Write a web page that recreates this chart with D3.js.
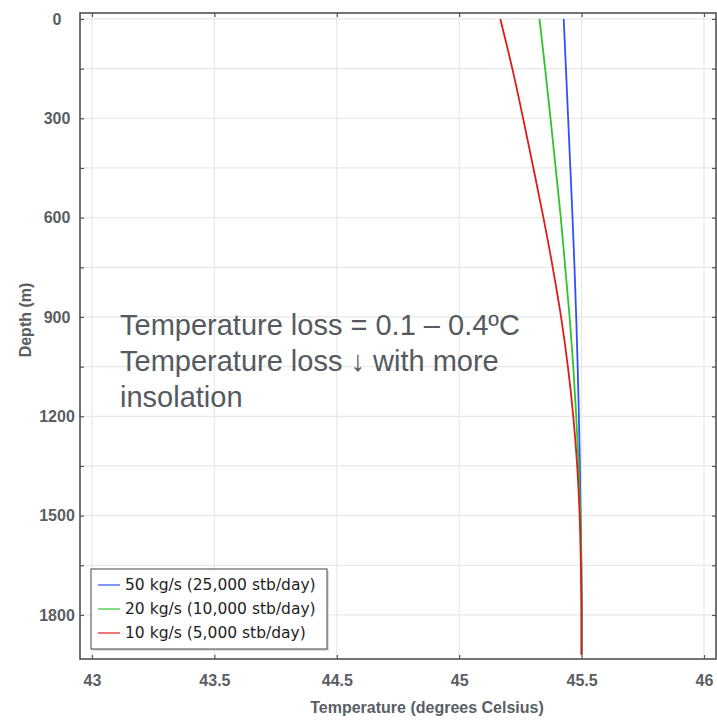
<!DOCTYPE html>
<html>
<head>
<meta charset="utf-8">
<script src="https://cdn.jsdelivr.net/npm/d3@7"></script>
<style>
  body { margin: 0; background: #fff; }
</style>
</head>
<body>
<div id="chart"></div>
<script>
let w = 717;
let h = 721;
let margin = {top: 13, right: 1, bottom: 62, left: 80};
let iw = w - margin.left - margin.right;
let ih = h - margin.top - margin.bottom;

// data
let depths = [0, 150, 300, 450, 600, 750, 900, 1050, 1200, 1350, 1500, 1650, 1800, 1920];
let temp50 = [45.427, 45.436, 45.445, 45.454, 45.463, 45.471, 45.478, 45.484, 45.489, 45.493, 45.496, 45.499, 45.5, 45.5];
let temp20 = [45.328, 45.351, 45.373, 45.394, 45.415, 45.433, 45.451, 45.466, 45.478, 45.488, 45.495, 45.499, 45.5, 45.5];
let temp10 = [45.168, 45.217, 45.261, 45.303, 45.344, 45.382, 45.416, 45.444, 45.466, 45.482, 45.492, 45.497, 45.5, 45.5];
let seriesNames = ["50 kg/s (25,000 stb/day)", "20 kg/s (10,000 stb/day)", "10 kg/s (5,000 stb/day)"];
let seriesColors = ["#3050ff", "#2ec42e", "#e01b1b"];
// the x tick labels as printed (44 is skipped in the original)
let xTicks = [43, 43.5, 44.5, 45, 45.5, 46];
let yTicks = [0, 150, 300, 450, 600, 750, 900, 1050, 1200, 1350, 1500, 1650, 1800];
let noteLines = ["Temperature loss = 0.1 \u2013 0.4\u00BAC", "Temperature loss \u2193 with more", "insolation"];

let series = [temp50, temp20, temp10].map((vals, i) => ({
  name: seriesNames[i],
  color: seriesColors[i],
  values: vals.map((v, j) => ({t: v, d: depths[j]}))
}));

let svg = d3.select("#chart").append("svg")
  .attr("width", w)
  .attr("height", h)
  .style("font-family", "'Liberation Sans', Arial, sans-serif");

let g = svg.append("g")
  .attr("transform", "translate(" + margin.left + "," + margin.top + ")");

// tick labels equally spaced, so a polylinear scale over the printed labels
let pad = 12;
let step = (iw - 2 * pad) / (xTicks.length - 1);
let xScale = d3.scaleLinear()
  .domain(xTicks)
  .range(xTicks.map((t, i) => pad + i * step));
let yScale = d3.scaleLinear().domain([-18, 1933]).range([0, ih]);

// grid
g.append("g").selectAll("line").data(xTicks).enter().append("line")
  .attr("x1", d => xScale(d)).attr("x2", d => xScale(d))
  .attr("y1", 0).attr("y2", ih)
  .attr("stroke", "#e8e8e8").attr("stroke-width", 1.2);
g.append("g").selectAll("line").data(yTicks).enter().append("line")
  .attr("y1", d => yScale(d)).attr("y2", d => yScale(d))
  .attr("x1", 0).attr("x2", iw)
  .attr("stroke", "#e8e8e8").attr("stroke-width", 1.2);

// lines
let line = d3.line()
  .x(d => xScale(d.t))
  .y(d => yScale(d.d))
  .curve(d3.curveMonotoneY);

g.selectAll(".series").data(series).enter().append("path")
  .attr("class", "series")
  .attr("d", d => line(d.values))
  .attr("fill", "none")
  .attr("stroke", d => d.color)
  .attr("stroke-width", 1.8);

// axes: ticks pointing inward on all sides
let tickCol = "#555";
let bottomAxis = d3.axisBottom(xScale).tickValues(xTicks).tickSizeInner(-4).tickSizeOuter(0)
  .tickFormat(d => String(d)).tickPadding(16);
let topAxis = d3.axisTop(xScale).tickValues(xTicks).tickSizeInner(-4).tickSizeOuter(0).tickFormat("");
let leftAxis = d3.axisLeft(yScale).tickValues(yTicks).tickSizeInner(-4).tickSizeOuter(0)
  .tickFormat(d => d % 300 === 0 ? d : "");
let rightAxis = d3.axisRight(yScale).tickValues(yTicks).tickSizeInner(-4).tickSizeOuter(0).tickFormat("");

function styleAxis(sel) {
  sel.select(".domain").remove();
  sel.selectAll(".tick line").attr("stroke", tickCol).attr("stroke-width", 1.2);
  sel.selectAll(".tick text")
    .attr("fill", "#595e64")
    .style("font-size", "16px")
    .style("font-weight", "bold")
    .style("font-family", "'Liberation Sans', Arial, sans-serif");
}

g.append("g").attr("transform", "translate(0," + ih + ")").call(bottomAxis).call(styleAxis);
g.append("g").call(topAxis).call(styleAxis);
g.append("g").call(leftAxis).call(styleAxis)
  .selectAll(".tick text").attr("text-anchor", "middle").attr("x", -23);
g.append("g").attr("transform", "translate(" + iw + ",0)").call(rightAxis).call(styleAxis);

// frame
g.append("rect")
  .attr("width", iw).attr("height", ih)
  .attr("fill", "none").attr("stroke", "#505050").attr("stroke-width", 1.6);

// axis titles
svg.append("text")
  .attr("x", 427).attr("y", h - 8)
  .attr("text-anchor", "middle")
  .attr("fill", "#595e64")
  .style("font-size", "16px").style("font-weight", "bold")
  .text("Temperature (degrees Celsius)");

svg.append("text")
  .attr("transform", "translate(31,320) rotate(-90)")
  .attr("text-anchor", "middle")
  .attr("fill", "#595e64")
  .style("font-size", "16px").style("font-weight", "bold")
  .text("Depth (m)");

// annotation
let note = g.append("text")
  .attr("x", 40).attr("y", 322)
  .attr("fill", "#555a60")
  .style("font-size", "29px")
  .style("font-family", "'Liberation Sans', Arial, sans-serif");
note.selectAll("tspan").data(noteLines).enter().append("tspan")
  .attr("x", 40)
  .attr("dy", (d, i) => i === 0 ? 0 : 36)
  .text(d => d);

// legend
let legend = g.append("g").attr("transform", "translate(11,556)");
legend.append("rect")
  .attr("x", 2).attr("y", 2).attr("width", 236).attr("height", 80)
  .attr("fill", "#ddd");
legend.append("rect")
  .attr("width", 236).attr("height", 80)
  .attr("fill", "#fff").attr("stroke", "#444").attr("stroke-width", 1);
let items = legend.selectAll(".item").data(series).enter().append("g")
  .attr("class", "item")
  .attr("transform", (d, i) => "translate(0," + (16 + i * 24) + ")");
items.append("line")
  .attr("x1", 7).attr("x2", 29)
  .attr("stroke", d => d.color).attr("stroke-width", 1.2);
items.append("text")
  .attr("x", 34).attr("dy", "0.35em")
  .attr("fill", "#1e1e1e")
  .style("font-size", "15.5px")
  .style("font-family", "'DejaVu Sans', sans-serif")
  .text(d => d.name);
</script>
</body>
</html>
